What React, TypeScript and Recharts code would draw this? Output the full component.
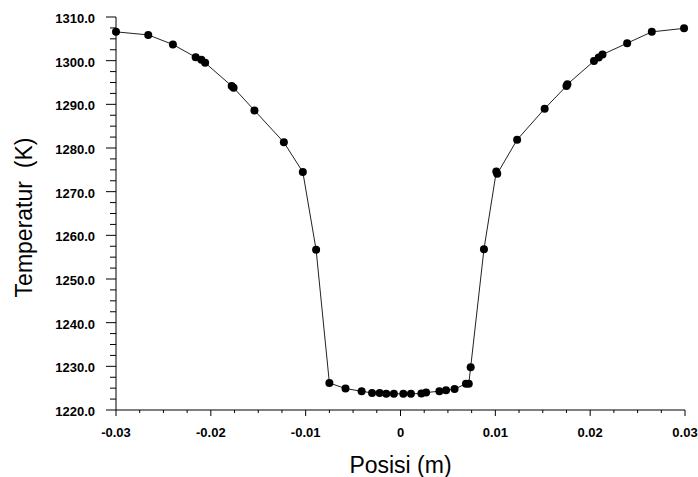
import React from 'react';
import { LineChart, Line, XAxis, YAxis } from 'recharts';

const positions = [
  -0.03, -0.0266, -0.024, -0.0216, -0.021, -0.0206, -0.0178, -0.0176, -0.0154, -0.0123,
  -0.0103, -0.0089, -0.0075, -0.0058, -0.0041, -0.003, -0.0022, -0.0015, -0.0007, 0.0003,
  0.0011, 0.0022, 0.0027, 0.0041, 0.0048, 0.0057, 0.0069, 0.0072, 0.0074, 0.0088,
  0.0101, 0.0102, 0.0123, 0.0152, 0.0175, 0.0176, 0.0204, 0.0209, 0.0213, 0.0239,
  0.0265, 0.0299,
];

const temperatures = [
  1306.6, 1305.9, 1303.7, 1300.8, 1300.2, 1299.5, 1294.2, 1293.8, 1288.6, 1281.3,
  1274.5, 1256.7, 1226.2, 1224.9, 1224.3, 1223.9, 1223.9, 1223.7, 1223.7, 1223.7,
  1223.7, 1223.8, 1224.0, 1224.3, 1224.5, 1224.8, 1226.0, 1226.0, 1229.8, 1256.8,
  1274.6, 1274.1, 1281.9, 1289.0, 1294.2, 1294.6, 1299.9, 1300.7, 1301.4, 1304.0,
  1306.6, 1307.4,
];

const xMajorTicks = [-0.03, -0.02, -0.01, 0, 0.01, 0.02, 0.03];
const xMajorLabels = ['-0.03', '-0.02', '-0.01', '0', '0.01', '0.02', '0.03'];
const xAllTicks = [
  -0.03, -0.0275, -0.025, -0.0225, -0.02, -0.0175, -0.015, -0.0125, -0.01, -0.0075, -0.005, -0.0025,
  0, 0.0025, 0.005, 0.0075, 0.01, 0.0125, 0.015, 0.0175, 0.02, 0.0225, 0.025, 0.0275, 0.03,
];

const yMajorTicks = [1220, 1230, 1240, 1250, 1260, 1270, 1280, 1290, 1300, 1310];
const yMajorLabels = ['1220.0', '1230.0', '1240.0', '1250.0', '1260.0', '1270.0', '1280.0', '1290.0', '1300.0', '1310.0'];
const yAllTicks = [
  1220, 1222.5, 1225, 1227.5, 1230, 1232.5, 1235, 1237.5, 1240, 1242.5, 1245, 1247.5,
  1250, 1252.5, 1255, 1257.5, 1260, 1262.5, 1265, 1267.5, 1270, 1272.5, 1275, 1277.5,
  1280, 1282.5, 1285, 1287.5, 1290, 1292.5, 1295, 1297.5, 1300, 1302.5, 1305, 1307.5, 1310,
];

const xTitle = 'Posisi (m)';
const yTitle = 'Temperatur \u00a0(K)';

const data = positions.map((x, i) => ({ x, t: temperatures[i] }));

const FONT = '"Liberation Sans", Arial, sans-serif';

const findIndex = (arr: number[], v: number) =>
  arr.findIndex((m) => Math.abs(m - v) < 1e-9);

const XTick = (props: any) => {
  const { x, y, payload } = props;
  const idx = findIndex(xMajorTicks, payload.value);
  const major = idx >= 0;
  return (
    <g>
      <line x1={x} x2={x} y1={y} y2={y + (major ? 6 : 3)} stroke="#000" strokeWidth={1} />
      {major && (
        <text x={x} y={y + 27} textAnchor="middle" fontFamily={FONT} fontSize={13} fontWeight="bold" fill="#000">
          {xMajorLabels[idx]}
        </text>
      )}
    </g>
  );
};

const YTick = (props: any) => {
  const { x, y, payload } = props;
  const idx = findIndex(yMajorTicks, payload.value);
  const major = idx >= 0;
  return (
    <g>
      <line x1={x - (major ? 10 : 6)} x2={x} y1={y} y2={y} stroke="#000" strokeWidth={1} />
      {major && (
        <text x={x - 21} y={y + 6} textAnchor="end" fontFamily={FONT} fontSize={13} fontWeight="bold" fill="#000">
          {yMajorLabels[idx]}
        </text>
      )}
    </g>
  );
};

const XTitle = (props: any) => {
  const vb = props.viewBox || { x: 116, y: 410, width: 569, height: 67 };
  return (
    <text x={vb.x + vb.width / 2} y={vb.y + 63} textAnchor="middle" fontFamily={FONT} fontSize={23} fill="#000">
      {xTitle}
    </text>
  );
};

const YTitle = (props: any) => {
  const vb = props.viewBox || { x: 0, y: 17, width: 116, height: 393 };
  const cx = vb.x + 32;
  const cy = vb.y + vb.height / 2 + 4;
  return (
    <text
      x={cx}
      y={cy}
      textAnchor="middle"
      transform={`rotate(-90, ${cx}, ${cy})`}
      fontFamily={FONT}
      fontSize={23}
      fill="#000"
    >
      {yTitle}
    </text>
  );
};

export default function App() {
  return (
    <div style={{ position: 'absolute', left: 0, top: 0, width: 698, height: 477, background: '#fff' }}>
      <LineChart
        width={698}
        height={477}
        data={data}
        margin={{ top: 17, right: 13, bottom: 0, left: 0 }}
        style={{ fontFamily: FONT }}
      >
        <XAxis
          dataKey="x"
          type="number"
          domain={[-0.03, 0.03]}
          ticks={xAllTicks}
          interval={0}
          tickSize={0}
          tickMargin={0}
          tickLine={false}
          axisLine={{ stroke: '#000', strokeWidth: 1 }}
          tick={<XTick />}
          height={67}
          label={<XTitle />}
        />
        <YAxis
          type="number"
          domain={[1220, 1310]}
          ticks={yAllTicks}
          interval={0}
          tickSize={0}
          tickMargin={0}
          tickLine={false}
          axisLine={{ stroke: '#000', strokeWidth: 1 }}
          tick={<YTick />}
          width={116}
          label={<YTitle />}
        />
        <Line
          dataKey="t"
          type="linear"
          stroke="#222"
          strokeWidth={1}
          dot={{ r: 4, fill: '#000', stroke: '#000', strokeWidth: 0 }}
          activeDot={false}
          isAnimationActive={false}
        />
      </LineChart>
    </div>
  );
}
